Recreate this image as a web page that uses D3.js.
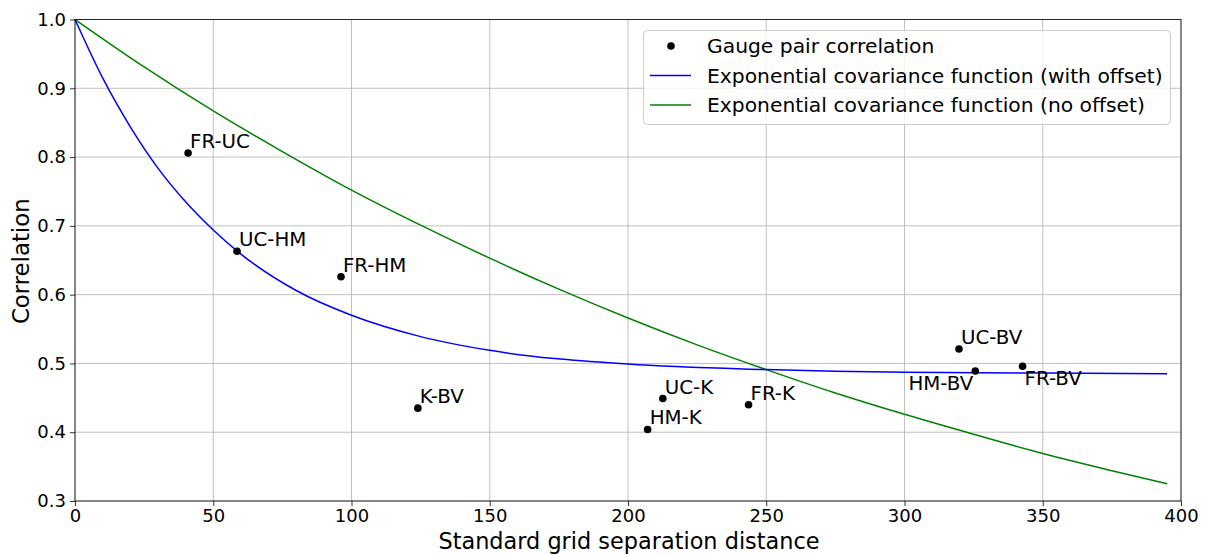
<!DOCTYPE html>
<html>
<head>
<meta charset="utf-8">
<script src="https://cdn.jsdelivr.net/npm/d3@7"></script>
<style>
  body { margin: 0; background: #fff; }
  text { font-family: "DejaVu Sans", sans-serif; fill: #000; }
</style>
</head>
<body>
<svg id="chart" width="1208" height="554"></svg>
<script>
// gauge pairs
var pairNames = ["FR-UC", "UC-HM", "FR-HM", "K-BV", "UC-K", "HM-K", "FR-K", "UC-BV", "HM-BV", "FR-BV"];
var pairDist  = [40.9, 58.6, 96.2, 124.0, 212.6, 207.1, 243.6, 319.7, 325.6, 342.7];
var pairCorr  = [0.806, 0.663, 0.626, 0.435, 0.449, 0.404, 0.440, 0.521, 0.489, 0.496];

// fitted curves
var offsetX = [0, 10, 20, 30, 40, 50, 60, 80, 100, 125, 150, 200, 250, 300, 350, 395];
var offsetY = [1.0, 0.915, 0.844, 0.784, 0.735, 0.694, 0.659, 0.606, 0.570, 0.539, 0.519, 0.499, 0.491, 0.487, 0.486, 0.485];
var noOffX = [0, 25, 50, 75, 100, 125, 150, 175, 200, 225, 250, 275, 300, 325, 350, 375, 395];
var noOffY = [1.0, 0.931, 0.867, 0.808, 0.752, 0.701, 0.653, 0.608, 0.566, 0.527, 0.491, 0.457, 0.426, 0.397, 0.369, 0.344, 0.325];

var xTicks = [0, 50, 100, 150, 200, 250, 300, 350, 400];
var yTicks = [0.3, 0.4, 0.5, 0.6, 0.7, 0.8, 0.9, 1.0];

var svg = d3.select("#chart");
var mLeft = 75, mRight = 1181, mTop = 19.5, mBottom = 501;

var x = d3.scaleLinear().domain([0, 400]).range([mLeft, mRight]);
var y = d3.scaleLinear().domain([0.3, 1.0]).range([mBottom, mTop]);

// grid
var grid = svg.append("g");
grid.selectAll(".gx").data(xTicks).enter().append("line")
  .attr("x1", function (d) { return x(d); }).attr("x2", function (d) { return x(d); })
  .attr("y1", mTop).attr("y2", mBottom)
  .attr("stroke", "#b0b0b0").attr("stroke-width", 0.8);
grid.selectAll(".gy").data(yTicks).enter().append("line")
  .attr("y1", function (d) { return y(d); }).attr("y2", function (d) { return y(d); })
  .attr("x1", mLeft).attr("x2", mRight)
  .attr("stroke", "#b0b0b0").attr("stroke-width", 0.8);

// curves
var line = d3.line().curve(d3.curveMonotoneX)
  .x(function (d) { return x(d[0]); })
  .y(function (d) { return y(d[1]); });

svg.append("path")
  .datum(d3.zip(noOffX, noOffY))
  .attr("d", line).attr("fill", "none")
  .attr("stroke", "#008000").attr("stroke-width", 1.5);
svg.append("path")
  .datum(d3.zip(offsetX, offsetY))
  .attr("d", line).attr("fill", "none")
  .attr("stroke", "#0000ff").attr("stroke-width", 1.5);

// points
var pts = pairNames.map(function (n, i) { return { name: n, x: pairDist[i], y: pairCorr[i] }; });
svg.selectAll(".pt").data(pts).enter().append("circle")
  .attr("cx", function (d) { return x(d.x); })
  .attr("cy", function (d) { return y(d.y); })
  .attr("r", 3.8).attr("fill", "#000");

svg.selectAll(".lbl").data(pts).enter().append("text")
  .attr("x", function (d) {
    if (d.name == "HM-BV") return x(d.x) - 2;
    return x(d.x) + 2;
  })
  .attr("y", function (d) {
    if (d.name == "HM-BV" || d.name == "FR-BV") return y(d.y) + 19;
    return y(d.y) - 5;
  })
  .attr("text-anchor", function (d) { return d.name == "HM-BV" ? "end" : "start"; })
  .style("font-size", "19.8px")
  .text(function (d) { return d.name; });

// axes
var xAxis = svg.append("g").attr("transform", "translate(0," + mBottom + ")")
  .call(d3.axisBottom(x).tickValues(xTicks).tickSize(5).tickPadding(3).tickFormat(d3.format("d")));
var yAxis = svg.append("g").attr("transform", "translate(" + mLeft + ",0)")
  .call(d3.axisLeft(y).tickValues(yTicks).tickSize(5).tickPadding(4).tickFormat(d3.format(".1f")));
[xAxis, yAxis].forEach(function (a) {
  a.selectAll("text").style("font-size", "18px").style("font-family", "'DejaVu Sans', sans-serif");
  a.selectAll("line").attr("stroke", "#000").attr("stroke-width", 0.8);
  a.select(".domain").remove();
});
// frame
svg.append("rect").attr("x", mLeft).attr("y", mTop)
  .attr("width", mRight - mLeft).attr("height", mBottom - mTop)
  .attr("fill", "none").attr("stroke", "#000").attr("stroke-width", 0.8);

svg.append("text").attr("x", (mLeft + mRight) / 2 + 1).attr("y", 549)
  .attr("text-anchor", "middle").style("font-size", "22.4px")
  .text("Standard grid separation distance");
svg.append("text").attr("transform", "translate(29," + ((mTop + mBottom) / 2 + 1) + ") rotate(-90)")
  .attr("text-anchor", "middle").style("font-size", "22.8px")
  .text("Correlation");

// legend
var lg = svg.append("g");
lg.append("rect").attr("x", 643.5).attr("y", 30.5).attr("width", 527).attr("height", 94)
  .attr("rx", 4).attr("fill", "rgba(255,255,255,0.8)").attr("stroke", "#cccccc");
var legItems = [
  { label: "Gauge pair correlation", kind: "dot", color: "#000" },
  { label: "Exponential covariance function (with offset)", kind: "line", color: "#0000ff" },
  { label: "Exponential covariance function (no offset)", kind: "line", color: "#008000" }
];
legItems.forEach(function (it, i) {
  var cy = 46 + i * 29.5;
  if (it.kind == "dot") {
    lg.append("circle").attr("cx", 671).attr("cy", cy).attr("r", 3.8).attr("fill", it.color);
  } else {
    lg.append("line").attr("x1", 650).attr("x2", 691).attr("y1", cy).attr("y2", cy)
      .attr("stroke", it.color).attr("stroke-width", 1.5);
  }
  lg.append("text").attr("x", 707).attr("y", cy + 7).style("font-size", "20.3px").text(it.label);
});
</script>
</body>
</html>
